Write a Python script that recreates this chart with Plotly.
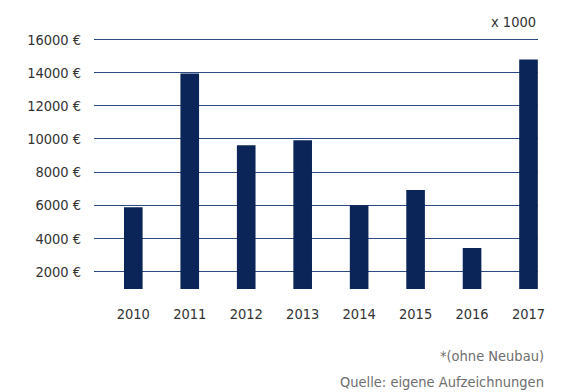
import plotly.graph_objects as go

years = ["2010", "2011", "2012", "2013", "2014", "2015", "2016", "2017"]
values = [5880, 13950, 9620, 9920, 6000, 6920, 3420, 14800]

y_ticks = [2000, 4000, 6000, 8000, 10000, 12000, 14000, 16000]
y_labels = [f"{v} €" for v in y_ticks]

FONT = "Liberation Sans Narrow, DejaVu Sans Condensed, Arial Narrow, sans-serif"
BAR = "#0b2559"
GRID = "#2e4a82"
FS = 14.5

fig = go.Figure()
fig.add_trace(go.Bar(
    x=list(range(len(years))),
    y=values,
    width=0.33,
    marker=dict(color=BAR, line=dict(width=0)),
    hoverinfo="skip",
))

fig.update_layout(
    width=576, height=392,
    margin=dict(l=94, r=38, t=37, b=103),
    paper_bgcolor="white", plot_bgcolor="white",
    showlegend=False,
    font=dict(family=FONT, size=FS, color="#333333"),
    xaxis=dict(
        range=[-0.696, 7.168],
        tickmode="array",
        tickvals=list(range(len(years))),
        ticktext=years,
        showgrid=False, zeroline=False, showline=False,
        ticks="outside", ticklen=12, tickcolor="rgba(0,0,0,0)",
        tickfont=dict(family=FONT, size=FS, color="#333333"),
    ),
    yaxis=dict(
        range=[950, 16150],
        tickmode="array",
        tickvals=y_ticks,
        ticktext=y_labels,
        showgrid=True, gridcolor=GRID, gridwidth=1.2,
        zeroline=False, showline=False,
        ticks="outside", ticklen=9, tickcolor="rgba(0,0,0,0)",
        tickfont=dict(family=FONT, size=FS, color="#333333"),
    ),
    annotations=[
        dict(text="x 1000", xref="paper", yref="paper", x=1.0, y=1.0,
             xanchor="right", yanchor="middle", yshift=15, showarrow=False,
             font=dict(family=FONT, size=FS, color="#333333")),
        dict(text="*(ohne Neubau)", xref="paper", yref="paper", x=1.0, y=0.0,
             xanchor="right", yanchor="middle", xshift=8, yshift=-67, showarrow=False,
             font=dict(family=FONT, size=FS, color="#6e6e6e")),
        dict(text="Quelle: eigene Aufzeichnungen", xref="paper", yref="paper", x=1.0, y=0.0,
             xanchor="right", yanchor="middle", xshift=8, yshift=-93, showarrow=False,
             font=dict(family=FONT, size=FS, color="#6e6e6e")),
    ],
)

fig.write_html("out.html", config={"displayModeBar": False},
               post_script="document.body.style.margin='0';")
